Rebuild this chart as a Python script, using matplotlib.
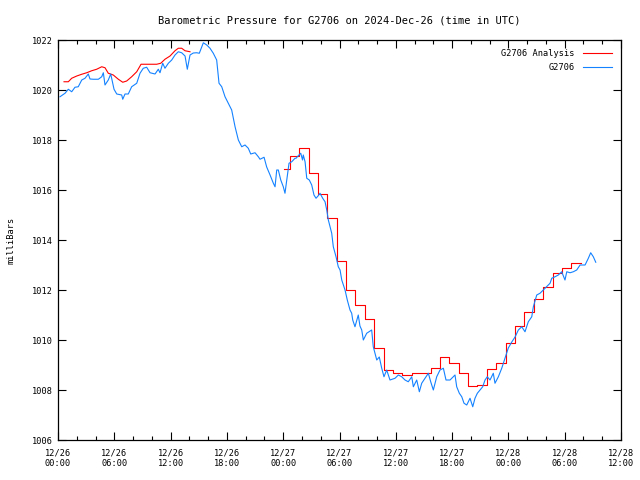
import matplotlib
matplotlib.use("Agg")
import matplotlib.pyplot as plt
from matplotlib.ticker import MultipleLocator, FixedLocator

# time axis: hours since 2024-12-26 00:00 UTC
obs_hours = [0.21, 0.75, 1.10, 1.46, 1.81, 2.16, 2.53, 2.88, 3.23, 3.41, 3.76, 4.30, 4.66, 4.83,
             5.01, 5.36, 5.62, 5.76, 5.97, 6.26, 6.79, 6.90, 7.14, 7.49, 7.85, 8.39, 8.74, 9.09,
             9.45, 9.81, 10.34, 10.69, 10.87, 11.16, 11.40, 11.76, 12.12, 12.47, 12.82, 13.18,
             13.54, 13.78, 14.07, 14.42, 14.78, 15.06, 15.49, 15.85, 16.20, 16.55, 16.91, 17.16,
             17.45, 17.80, 18.15, 18.51, 18.87, 19.22, 19.58, 19.93, 20.28, 20.54, 21.00, 21.35,
             21.53, 21.96, 22.24, 22.60, 22.95, 23.13, 23.31, 23.48, 23.74, 24.01, 24.19, 24.38,
             24.62, 24.91, 25.26, 25.37, 25.58, 25.87, 26.06, 26.14, 26.33, 26.51, 26.78, 27.04,
             27.28, 27.50, 27.71, 27.92, 28.21, 28.46, 28.64, 28.81, 29.17, 29.34, 29.63, 29.87,
             30.06, 30.24, 30.59, 30.83, 31.12, 31.30, 31.41, 31.65, 32.00, 32.18, 32.37, 32.54,
             32.90, 33.43, 33.60, 33.97, 34.24, 34.50, 34.74, 35.03, 35.38, 35.92, 36.27, 36.63,
             36.98, 37.33, 37.70, 37.87, 38.23, 38.51, 38.76, 39.11, 39.47, 39.72, 40.00, 40.36,
             40.71, 41.07, 41.35, 41.78, 42.31, 42.49, 42.77, 43.03, 43.27, 43.56, 43.91, 44.20,
             44.44, 44.69, 44.98, 45.26, 45.51, 45.75, 46.04, 46.39, 46.57, 46.93, 47.29, 47.64,
             47.99, 48.36, 48.71, 49.06, 49.42, 49.77, 50.12, 50.49, 50.66, 51.02, 51.37, 51.72,
             52.08, 52.44, 52.62, 52.97, 53.32, 53.68, 54.03, 54.22, 54.57, 54.92, 55.28, 55.64,
             56.17, 56.52, 56.77, 57.05, 57.31]
obs_mbar = [1019.73, 1019.87, 1020.03, 1019.93, 1020.11, 1020.13, 1020.40, 1020.47, 1020.64,
            1020.44, 1020.43, 1020.43, 1020.53, 1020.69, 1020.20, 1020.40, 1020.64, 1020.40,
            1020.03, 1019.84, 1019.80, 1019.63, 1019.84, 1019.84, 1020.13, 1020.27, 1020.67,
            1020.87, 1020.91, 1020.69, 1020.64, 1020.83, 1020.69, 1021.07, 1020.87, 1021.07,
            1021.20, 1021.40, 1021.53, 1021.49, 1021.36, 1020.83, 1021.40, 1021.48, 1021.49,
            1021.47, 1021.89, 1021.80, 1021.67, 1021.47, 1021.20, 1020.27, 1020.13, 1019.73,
            1019.47, 1019.20, 1018.53, 1018.00, 1017.73, 1017.80, 1017.67, 1017.44, 1017.49,
            1017.33, 1017.23, 1017.31, 1016.92, 1016.60, 1016.27, 1016.13, 1016.80, 1016.80,
            1016.40, 1016.13, 1015.87, 1016.40, 1017.07, 1017.13, 1017.27, 1017.27, 1017.36,
            1017.47, 1017.20, 1017.40, 1017.13, 1016.47, 1016.40, 1016.20, 1015.80, 1015.67,
            1015.76, 1015.87, 1015.67, 1015.53, 1015.20, 1014.80, 1014.27, 1013.73, 1013.33,
            1012.93, 1012.80, 1012.40, 1012.00, 1011.60, 1011.20, 1011.07, 1010.80, 1010.53,
            1011.00, 1010.56, 1010.40, 1010.00, 1010.27, 1010.40, 1009.73, 1009.20, 1009.32,
            1008.87, 1008.53, 1008.80, 1008.40, 1008.47, 1008.60, 1008.53, 1008.40, 1008.33,
            1008.53, 1008.13, 1008.40, 1007.93, 1008.27, 1008.47, 1008.67, 1008.33, 1008.00,
            1008.53, 1008.80, 1008.87, 1008.40, 1008.40, 1008.60, 1008.13, 1007.87, 1007.73,
            1007.47, 1007.40, 1007.67, 1007.33, 1007.67, 1007.87, 1008.00, 1008.13, 1008.40,
            1008.53, 1008.40, 1008.67, 1008.27, 1008.53, 1008.87, 1009.28, 1009.68, 1009.92,
            1010.12, 1010.40, 1010.53, 1010.33, 1010.73, 1010.93, 1011.33, 1011.80, 1011.87,
            1012.00, 1012.13, 1012.27, 1012.47, 1012.53, 1012.60, 1012.73, 1012.40, 1012.73,
            1012.69, 1012.73, 1012.80, 1013.00, 1013.00, 1013.27, 1013.49, 1013.33, 1013.11]

# analysis, first day (continuous line)
ana1_hours = [0.64, 1.10, 1.46, 2.00, 2.53, 3.06, 3.59, 4.12, 4.66, 5.01, 5.36, 5.89, 6.43,
              6.90, 7.32, 7.85, 8.39, 8.85, 9.45, 10.52, 10.95, 11.40, 11.94, 12.47, 12.82,
              13.18, 13.54, 14.07]
ana1_mbar = [1020.33, 1020.33, 1020.47, 1020.56, 1020.63, 1020.69, 1020.77, 1020.83, 1020.93,
             1020.89, 1020.67, 1020.60, 1020.43, 1020.31, 1020.36, 1020.53, 1020.73, 1021.03,
             1021.03, 1021.03, 1021.07, 1021.23, 1021.36, 1021.57, 1021.67, 1021.67, 1021.57,
             1021.53]

# analysis, hourly steps
ana2_hours = [24.1, 24.7, 25.7, 26.7, 27.7, 28.7, 29.7, 30.7, 31.7, 32.7, 33.7, 34.7, 35.7,
              36.7, 37.7, 38.7, 39.7, 40.7, 41.7, 42.7, 43.7, 44.7, 45.7, 46.7, 47.7, 48.7,
              49.7, 50.7, 51.7, 52.7, 53.7, 54.7, 55.7]
ana2_mbar = [1016.83, 1017.35, 1017.67, 1016.67, 1015.84, 1014.87, 1013.18, 1012.00, 1011.40,
             1010.83, 1009.67, 1008.80, 1008.67, 1008.60, 1008.67, 1008.67, 1008.87, 1009.33,
             1009.07, 1008.67, 1008.16, 1008.20, 1008.83, 1009.07, 1009.87, 1010.57, 1011.13,
             1011.63, 1012.11, 1012.69, 1012.89, 1013.07, 1013.07]

xtick_hours = [0, 6, 12, 18, 24, 30, 36, 42, 48, 54, 60]
xtick_labels = ["12/26\n00:00", "12/26\n06:00", "12/26\n12:00", "12/26\n18:00",
                "12/27\n00:00", "12/27\n06:00", "12/27\n12:00", "12/27\n18:00",
                "12/28\n00:00", "12/28\n06:00", "12/28\n12:00"]

plt.rcParams['font.family'] = 'DejaVu Sans Mono'
plt.rcParams['font.size'] = 6.2

fig = plt.figure(figsize=(6.4, 4.8), dpi=100)
ax = fig.add_axes([58 / 640, 40 / 480, 563 / 640, 400 / 480])

red = '#ff0000'
blue = '#1482ff'
ax.plot(ana1_hours, ana1_mbar, color=red, lw=0.8, label='G2706 Analysis')
ax.step(ana2_hours, ana2_mbar, where='post', color=red, lw=0.8)
ax.plot(obs_hours, obs_mbar, color=blue, lw=0.8, label='G2706')

ax.set_xlim(0, 60)
ax.set_ylim(1006, 1022)
ax.yaxis.set_major_locator(MultipleLocator(2))
ax.xaxis.set_major_locator(FixedLocator(xtick_hours))
ax.xaxis.set_minor_locator(MultipleLocator(2))
ax.set_xticklabels(xtick_labels)
ax.tick_params(which='both', direction='in', top=True, right=True, width=0.8)
ax.tick_params(which='major', length=6)
ax.tick_params(which='minor', length=3)
ax.tick_params(axis='y', pad=4)
ax.tick_params(axis='x', pad=6)
for s in ax.spines.values():
    s.set_linewidth(0.9)

ax.set_title('Barometric Pressure for G2706 on 2024-Dec-26 (time in UTC)', pad=12)
ax.set_ylabel('milliBars')
ax.yaxis.set_label_coords(-0.075, 0.5)

ax.legend(loc='upper right', frameon=False, markerfirst=False, handlelength=3.3,
          handletextpad=1.0, labelspacing=0.5, borderaxespad=0.7)

plt.savefig('out.png', dpi=100)
plt.close(fig)
